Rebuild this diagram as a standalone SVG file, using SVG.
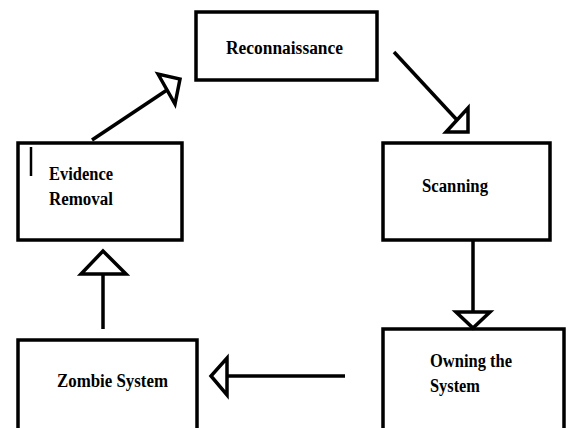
<svg xmlns="http://www.w3.org/2000/svg" width="568" height="428" viewBox="0 0 568 428">
<style>
.box{fill:#fff;stroke:#000;stroke-width:3.5}
.lbl{font-family:"Liberation Serif","Times New Roman",serif;font-weight:bold;font-size:18px;fill:#000}
.ln{stroke:#000;stroke-width:3.5;fill:none}
.ah{fill:#fff;stroke:#000;stroke-width:3.5;stroke-linejoin:miter}
</style>
<rect width="568" height="428" fill="#fff"/>
<g id="reconnaissance">
<rect class="box" x="196" y="12" width="181" height="68"/>
<text class="lbl" x="226" y="54" textLength="117" lengthAdjust="spacingAndGlyphs">Reconnaissance</text>
</g>
<g id="scanning">
<rect class="box" x="383" y="143" width="167" height="97"/>
<text class="lbl" x="422" y="192" textLength="66" lengthAdjust="spacingAndGlyphs">Scanning</text>
</g>
<g id="owning">
<rect class="box" x="383" y="329" width="181" height="110"/>
<text class="lbl" x="430" y="367" textLength="82" lengthAdjust="spacingAndGlyphs">Owning the</text>
<text class="lbl" x="430" y="392" textLength="50" lengthAdjust="spacingAndGlyphs">System</text>
</g>
<g id="zombie">
<rect class="box" x="18" y="340" width="179" height="100"/>
<text class="lbl" x="57" y="387" textLength="111" lengthAdjust="spacingAndGlyphs">Zombie System</text>
</g>
<g id="evidence">
<rect class="box" x="18" y="143" width="164" height="97"/>
<line x1="31" y1="147" x2="31" y2="176" stroke="#000" stroke-width="2.5"/>
<text class="lbl" x="49" y="180" textLength="64" lengthAdjust="spacingAndGlyphs">Evidence</text>
<text class="lbl" x="49" y="205" textLength="64" lengthAdjust="spacingAndGlyphs">Removal</text>
</g>
<g id="connectors">
<line class="ln" x1="394" y1="52" x2="457" y2="120"/>
<polygon class="ah" points="446,132 468,132 468,108"/>
<line class="ln" x1="473" y1="240" x2="473" y2="312"/>
<polygon class="ah" points="456,312 490,312 473,328"/>
<line class="ln" x1="345" y1="376" x2="227" y2="376"/>
<polygon class="ah" points="227,358 227,395 211,376"/>
<line class="ln" x1="103" y1="329" x2="103" y2="274"/>
<polygon class="ah" points="81,274 126,274 103,251"/>
<line class="ln" x1="92" y1="140" x2="167" y2="90"/>
<polygon class="ah" points="158,74 175,104 180,79"/>
</g>
</svg>
